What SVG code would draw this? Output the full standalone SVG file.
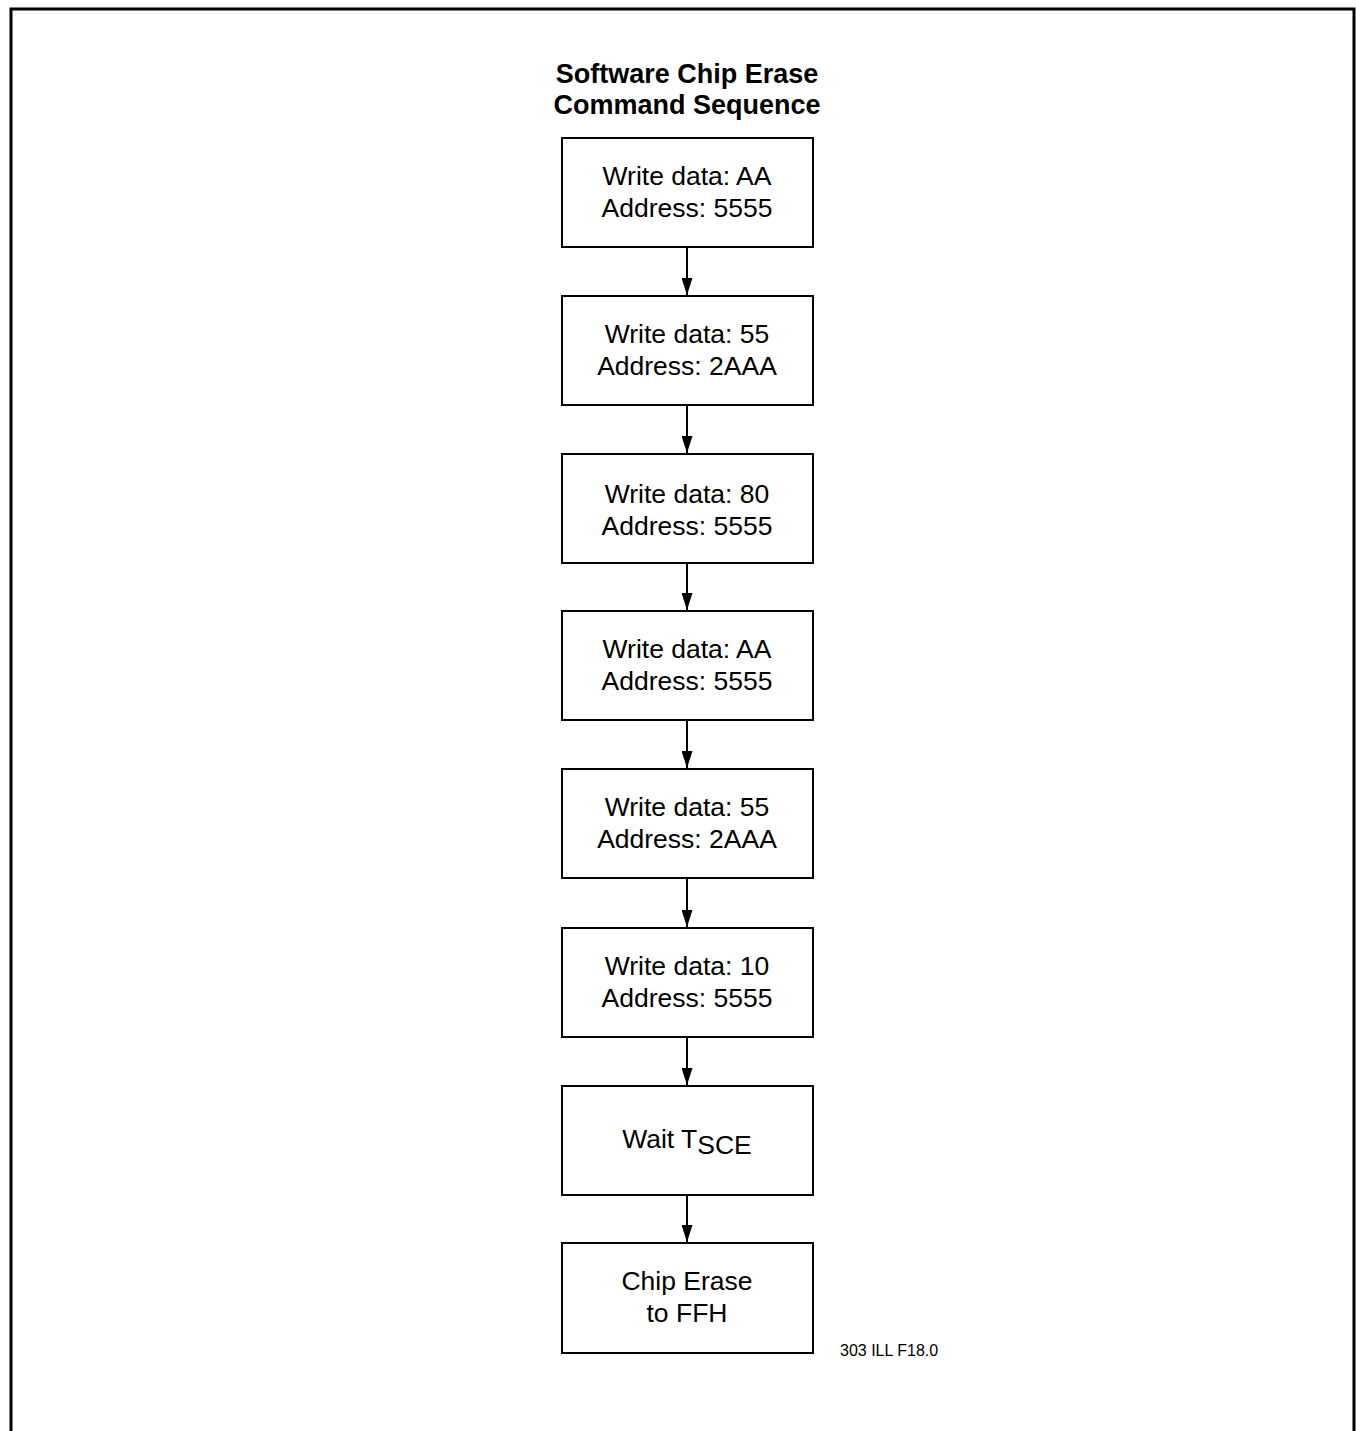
<svg xmlns="http://www.w3.org/2000/svg" width="1356" height="1431" viewBox="0 0 1356 1431">
<style>
.box{fill:#fff;stroke:#000;stroke-width:2}
.t{font-family:"Liberation Sans",Arial,sans-serif;font-size:26.5px;text-anchor:middle;fill:#000}
.title{font-family:"Liberation Sans",Arial,sans-serif;font-size:27px;font-weight:bold;text-anchor:middle;fill:#000}
.c{stroke:#000;stroke-width:2;fill:none}
</style>
<defs>
<marker id="ah" markerWidth="17" markerHeight="11" refX="17" refY="5.5" orient="auto" markerUnits="userSpaceOnUse" viewBox="0 0 17 11">
<path d="M0,0 L17,5.5 L0,11 Z" fill="#000"/>
</marker>
</defs>
<rect width="1356" height="1431" fill="#fff"/>
<path d="M11,1431 L11,9 L1354,9 L1354,1431" fill="none" stroke="#000" stroke-width="3"/>
<g id="title">
<text class="title" x="687" y="83">Software Chip Erase</text>
<text class="title" x="687" y="114">Command Sequence</text>
</g>
<g id="connectors">
<line class="c" x1="687" y1="247" x2="687" y2="295" marker-end="url(#ah)"/>
<line class="c" x1="687" y1="405" x2="687" y2="453" marker-end="url(#ah)"/>
<line class="c" x1="687" y1="563" x2="687" y2="610" marker-end="url(#ah)"/>
<line class="c" x1="687" y1="720" x2="687" y2="768" marker-end="url(#ah)"/>
<line class="c" x1="687" y1="878" x2="687" y2="927" marker-end="url(#ah)"/>
<line class="c" x1="687" y1="1037" x2="687" y2="1085" marker-end="url(#ah)"/>
<line class="c" x1="687" y1="1195" x2="687" y2="1242" marker-end="url(#ah)"/>
</g>
<g id="n1"><rect class="box" x="562" y="138" width="251" height="109"/><text class="t" x="687" y="185">Write data: AA</text><text class="t" x="687" y="217">Address: 5555</text></g>
<g id="n2"><rect class="box" x="562" y="296" width="251" height="109"/><text class="t" x="687" y="343">Write data: 55</text><text class="t" x="687" y="375">Address: 2AAA</text></g>
<g id="n3"><rect class="box" x="562" y="454" width="251" height="109"/><text class="t" x="687" y="503">Write data: 80</text><text class="t" x="687" y="535">Address: 5555</text></g>
<g id="n4"><rect class="box" x="562" y="611" width="251" height="109"/><text class="t" x="687" y="658">Write data: AA</text><text class="t" x="687" y="690">Address: 5555</text></g>
<g id="n5"><rect class="box" x="562" y="769" width="251" height="109"/><text class="t" x="687" y="816">Write data: 55</text><text class="t" x="687" y="848">Address: 2AAA</text></g>
<g id="n6"><rect class="box" x="562" y="928" width="251" height="109"/><text class="t" x="687" y="975">Write data: 10</text><text class="t" x="687" y="1007">Address: 5555</text></g>
<g id="n7"><rect class="box" x="562" y="1086" width="251" height="109"/><text class="t" x="687" y="1148">Wait T<tspan dy="6">SCE</tspan></text></g>
<g id="n8"><rect class="box" x="562" y="1243" width="251" height="110"/><text class="t" x="687" y="1290">Chip Erase</text><text class="t" x="687" y="1322">to FFH</text></g>
<text x="840" y="1356" font-family="Liberation Sans,Arial,sans-serif" font-size="16" fill="#000">303 ILL F18.0</text>
</svg>
